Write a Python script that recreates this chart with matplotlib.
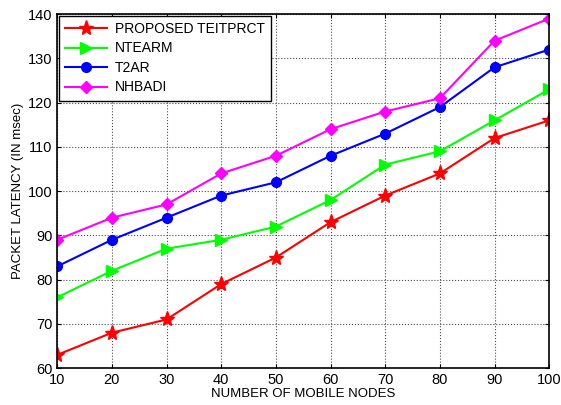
import matplotlib
matplotlib.use("Agg")
import matplotlib.pyplot as plt
from matplotlib import rcParams

rcParams['font.family'] = 'Liberation Sans'

nodes = [10, 20, 30, 40, 50, 60, 70, 80, 90, 100]
proposed = [63, 68, 71, 79, 85, 93, 99, 104, 112, 116]
ntearm = [76, 82, 87, 89, 92, 98, 106, 109, 116, 123]
t2ar = [83, 89, 94, 99, 102, 108, 113, 119, 128, 132]
nhbadi = [89, 94, 97, 104, 108, 114, 118, 121, 134, 139]

def main():
    fig = plt.figure(figsize=(5.61, 4.05), dpi=100)
    ax = fig.add_axes([0.102, 0.091, 0.877, 0.874])

    ax.plot(nodes, proposed, color="red", marker="*", markersize=11, lw=1.5,
            label="PROPOSED TEITPRCT")
    ax.plot(nodes, ntearm, color="#00ff00", marker=">", markersize=8, lw=1.5,
            label="NTEARM")
    ax.plot(nodes, t2ar, color="blue", marker="o", markersize=7, lw=1.5,
            label="T2AR")
    ax.plot(nodes, nhbadi, color="magenta", marker="D", markersize=6, lw=1.5,
            label="NHBADI")

    ax.set_xlim(10, 100)
    ax.set_ylim(60, 140)
    ax.set_xticks(nodes)
    ax.set_yticks(range(60, 141, 10))
    ax.grid(True, linestyle=":", color="0.3", linewidth=0.8)
    ax.tick_params(axis="both", direction="in", labelsize=10.5, length=3,
                   top=True, right=True)
    for s in ax.spines.values():
        s.set_linewidth(1.2)

    ax.set_xlabel("NUMBER OF MOBILE NODES", fontsize=9.5, labelpad=1)
    ax.set_ylabel("PACKET LATENCY (IN msec)", fontsize=9.5, labelpad=3)

    leg = ax.legend(loc="upper left", fontsize=10, fancybox=False,
                    framealpha=1, edgecolor="black", borderaxespad=0.1,
                    handlelength=3.0, labelspacing=0.4, borderpad=0.45,
                    handletextpad=0.6)
    leg.get_frame().set_linewidth(1.0)

    fig.savefig("out.png", dpi=100)

if __name__ == "__main__":
    main()
